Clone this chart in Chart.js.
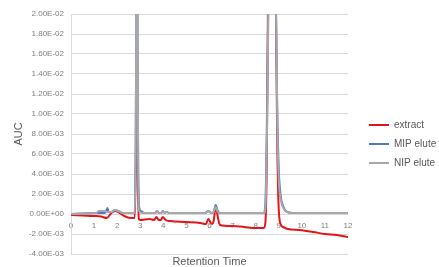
<!DOCTYPE html>
<html>
<head>
<meta charset="utf-8">
<script src="https://cdn.jsdelivr.net/npm/chart.js@4/dist/chart.umd.min.js"></script>
<style>
  html, body { margin: 0; padding: 0; background: #fff; }
  #wrap { width: 439px; height: 267px; position: relative; }
</style>
</head>
<body>
<div id="wrap"><canvas id="chart"></canvas></div>
<script>
// Axis labels
const xTitle = 'Retention Time';
const yTitle = 'AUC';
const seriesNames = ['extract', 'MIP elute', 'NIP elute'];

// extract (red)
const extractTime = [0, 0.5, 1.0, 1.3, 1.55, 1.75, 1.9, 2.05, 2.3, 2.6, 2.76, 2.81, 2.85, 2.89, 2.94, 3.0, 3.4, 3.6, 3.7, 3.8, 3.9, 3.97, 4.1, 4.3, 5.0, 5.6, 5.85, 5.95, 6.1, 6.18, 6.27, 6.36, 6.45, 7.0, 7.5, 8.0, 8.35, 8.42, 8.48, 8.53, 8.62, 8.71, 8.8, 8.88, 8.93, 8.99, 9.08, 9.19, 9.4, 9.9, 10.5, 11, 11.5, 12];
const extractAuc = [-0.0001, -0.00015, -0.0002, -0.00025, -0.0004, 0.0001, 0.0003, 0.0002, -0.0002, -0.0004, -0.0004, 0.005, 0.016, 0.005, -0.0005, -0.0006, -0.0005, -0.0006, -0.0003, -0.0006, -0.0006, -0.0003, -0.0006, -0.0007, -0.0008, -0.0009, -0.001, -0.0005, -0.001, -0.0007, 0.0007, -0.0003, -0.0011, -0.0012, -0.0013, -0.0014, -0.0014, -0.0009, 0.005, 0.02, 0.045, 0.06, 0.045, 0.02, 0.008, 0.001, -0.001, -0.0013, -0.0015, -0.0016, -0.0018, -0.002, -0.0021, -0.0023];

// MIP elute (blue)
const mipTime = [0, 1.1, 1.45, 1.53, 1.58, 1.63, 1.75, 1.9, 2.05, 2.25, 2.76, 2.8, 2.83, 2.855, 2.88, 2.91, 2.96, 3.02, 3.2, 3.65, 3.72, 3.8, 3.92, 3.97, 4.05, 4.15, 4.25, 5.8, 5.95, 6.08, 6.18, 6.27, 6.36, 6.45, 8.35, 8.42, 8.48, 8.54, 8.62, 8.71, 8.8, 8.88, 8.93, 9.0, 9.08, 9.17, 9.27, 9.38, 9.6, 10.5, 12];
const mipAuc = [0, 0.0001, 0.0001, 0.0003, 0.0006, 0.0002, 0.0002, 0.0004, 0.0003, 0.0001, 0.0001, 0.006, 0.02, 0.03, 0.02, 0.005, 0.0006, 0.0003, 0.0001, 0.0001, 0.0003, 0.0001, 0.0001, 0.0003, 0.0001, 0.0002, 0.0001, 0.0001, 0.0003, 0.0001, 0.0002, 0.0009, 0.0003, 0.0001, 0.0001, 0.001, 0.008, 0.02, 0.045, 0.06, 0.045, 0.02, 0.011, 0.0045, 0.0019, 0.0009, 0.0004, 0.0002, 0.0001, 0.0001, 0.0001];

// NIP elute (grey)
const nipTime = [0, 1.1, 1.2, 1.45, 1.55, 1.75, 1.9, 2.05, 2.25, 2.76, 2.8, 2.83, 2.855, 2.88, 2.91, 2.95, 3.1, 3.65, 3.72, 3.8, 3.92, 3.97, 4.05, 4.15, 4.25, 5.85, 5.95, 6.05, 6.18, 6.27, 6.36, 6.45, 8.37, 8.43, 8.49, 8.55, 8.63, 8.72, 8.81, 8.89, 8.94, 9.0, 9.1, 9.22, 9.35, 9.6, 10.5, 12];
const nipAuc = [0, 0.0001, 0.0003, 0.0003, 0.0002, 0.0002, 0.0004, 0.0003, 0.0001, 0.0001, 0.006, 0.02, 0.03, 0.02, 0.005, 0.0003, 0.0001, 0.0001, 0.0003, 0.0001, 0.0001, 0.0003, 0.0001, 0.0002, 0.0001, 0.0001, 0.0003, 0.0001, 0.0002, 0.0007, 0.0002, 0.0001, 0.0001, 0.001, 0.008, 0.02, 0.045, 0.06, 0.045, 0.02, 0.009, 0.0035, 0.0013, 0.0005, 0.0002, 0.0001, 0.0001, 0.0001];

// axis ranges
const yMin = -0.004, yMax = 0.02, yStep = 0.002;
const xMin = 0, xMax = 12, xStep = 1;

function toPoints(xs, ys) {
  return xs.map((x, i) => ({ x: x, y: ys[i] }));
}

// Excel-style scientific label, e.g. 2.00E-02
function sciLabel(v) {
  if (Math.abs(v) < 1e-10) v = 0;
  const parts = v.toExponential(2).split('e');
  const n = parseInt(parts[1], 10);
  return parts[0] + 'E' + (n < 0 ? '-' : '+') + String(Math.abs(n)).padStart(2, '0');
}

const fontFamily = '"Liberation Sans", Arial, sans-serif';

// x axis title drawn under the plot area
const xTitlePlugin = {
  id: 'xTitle',
  afterDraw(chart) {
    const { ctx, chartArea } = chart;
    ctx.save();
    ctx.font = '11px ' + fontFamily;
    ctx.fillStyle = '#595959';
    ctx.textAlign = 'center';
    ctx.textBaseline = 'middle';
    ctx.fillText(xTitle, (chartArea.left + chartArea.right) / 2, chartArea.bottom + 8);
    ctx.restore();
  }
};

function lineSet(label, xs, ys, color, order) {
  return {
    label: label,
    data: toPoints(xs, ys),
    borderColor: color,
    backgroundColor: color,
    borderWidth: 2,
    pointRadius: 0,
    fill: false,
    order: order,
    cubicInterpolationMode: 'monotone'
  };
}

const ctx = document.getElementById('chart').getContext('2d');
new Chart(ctx, {
  type: 'line',
  data: {
    datasets: [
      lineSet(seriesNames[0], extractTime, extractAuc, '#e5141b', 3),
      lineSet(seriesNames[1], mipTime, mipAuc, '#5576c0', 2),
      lineSet(seriesNames[2], nipTime, nipAuc, '#a8a8a8', 1)
    ]
  },
  options: {
    responsive: true,
    maintainAspectRatio: false,
    animation: false,
    layout: { padding: { left: 4, top: 14, right: 0, bottom: 13 } },
    plugins: {
      tooltip: { enabled: false },
      legend: {
        position: 'right',
        maxWidth: 79,
        // empty title only pushes the entries a little lower
        title: { display: true, text: '', padding: 4, font: { size: 10 } },
        labels: {
          usePointStyle: true,
          pointStyle: 'line',
          pointStyleWidth: 20,
          padding: 9,
          color: '#595959',
          font: { family: fontFamily, size: 10 },
          sort: (a, b) => a.datasetIndex - b.datasetIndex
        }
      }
    },
    scales: {
      x: {
        type: 'linear',
        position: { y: 0 },
        min: xMin,
        max: xMax,
        grid: { display: false, drawTicks: false },
        border: { display: false },
        ticks: {
          stepSize: xStep,
          padding: 7,
          color: '#7f7f7f',
          font: { family: fontFamily, size: 8 }
        }
      },
      y: {
        type: 'linear',
        position: 'left',
        min: yMin,
        max: yMax,
        afterFit(scale) { scale.width = 67; },
        grid: { color: '#d9d9d9', drawTicks: false },
        border: { color: '#d9d9d9' },
        ticks: {
          stepSize: yStep,
          padding: 7,
          color: '#7f7f7f',
          font: { family: fontFamily, size: 8 },
          callback: (v) => sciLabel(v)
        },
        title: {
          display: true,
          text: yTitle,
          color: '#595959',
          padding: { top: 8, bottom: 0 },
          font: { family: fontFamily, size: 11 }
        }
      },
      // keeps a gap between the plot and the legend
      gap: {
        type: 'linear',
        axis: 'y',
        position: 'right',
        afterFit(scale) { scale.width = 12; },
        grid: { display: false },
        border: { display: false },
        ticks: { display: false }
      }
    }
  },
  plugins: [xTitlePlugin]
});
</script>
</body>
</html>
